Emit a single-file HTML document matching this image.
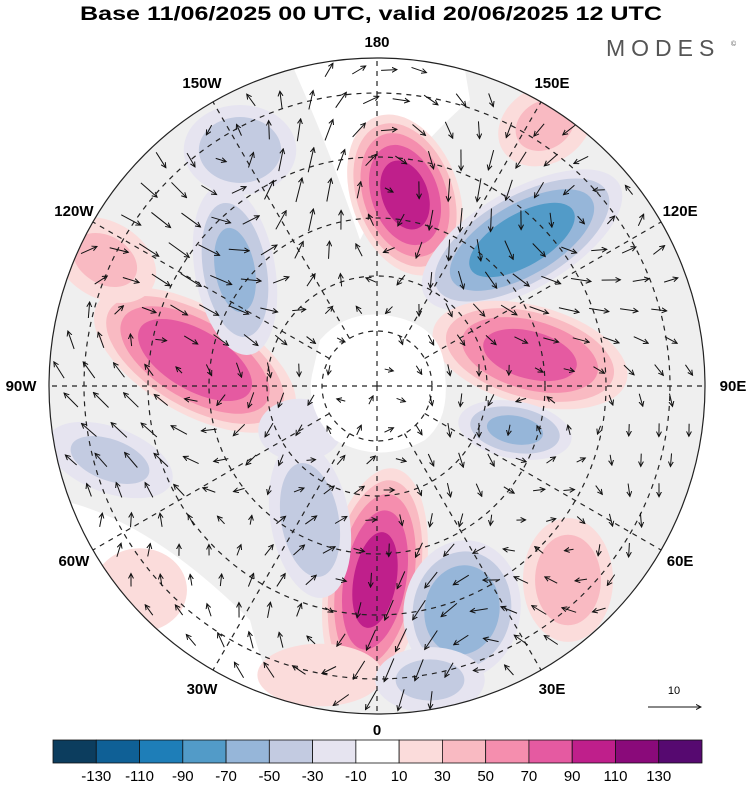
<!DOCTYPE html>
<html><head><meta charset="utf-8"><style>
body{margin:0;background:#fff;width:750px;height:783px;overflow:hidden;font-family:"Liberation Sans",sans-serif}
</style></head><body>
<svg id="chart" width="750" height="783" viewBox="0 0 750 783" xmlns="http://www.w3.org/2000/svg">
<defs><clipPath id="cc"><circle cx="377" cy="386" r="328"/></clipPath>
<marker id="ah" markerWidth="6" markerHeight="6" refX="5" refY="3" orient="auto"><path d="M0,0.5 L5,3 L0,5.5" fill="none" stroke="#111" stroke-width="1"/></marker></defs>
<text x="80" y="20" font-size="19" font-weight="bold" textLength="582" lengthAdjust="spacingAndGlyphs">Base 11/06/2025 00 UTC, valid 20/06/2025 12 UTC</text>
<text x="606" y="56" font-size="23" fill="#555" letter-spacing="6">MODES</text>
<text x="731" y="46" font-size="7" fill="#555">©</text>
<g id="map" clip-path="url(#cc)">
<circle cx="377" cy="386" r="328" fill="#efefef"/>
<path d="M60,500 Q150,520 250,620 Q270,700 300,720 L40,720 Z" fill="#fff"/>
<path d="M290,60 Q330,150 360,240 Q400,160 470,100 L460,40 Z" fill="#fff"/>
<g id="blobs"></g>
<path d="M320,340 Q350,305 400,318 Q445,330 445,375 Q450,420 425,440 Q380,465 335,440 Q305,410 312,375 Z" fill="#fff"/>
<g id="grat" fill="none" stroke="#222" stroke-dasharray="5,5" stroke-width="1.2"></g>
<g id="arrows"></g>
</g>
<circle cx="377" cy="386" r="328" fill="none" stroke="#222" stroke-width="1.2"/>
<g id="lonlabels" font-size="15" font-weight="bold" text-anchor="middle"></g>
<g>
<text x="674" y="694" font-size="11" text-anchor="middle">10</text>
<line x1="648" y1="707" x2="701" y2="707" stroke="#111" stroke-width="1" marker-end="url(#ah)"/>
</g>
<g id="colorbar"></g>
</svg>
<script>
const levels=[-130,-110,-90,-70,-50,-30,-10,10,30,50,70,90,110,130];
const colors=["#0c3d5e","#0f6096","#1e7eb8","#529bc8","#96b6d9","#c3cbe1","#e6e4f0","#ffffff","#fbdcdb","#f9bac2","#f58eae","#e55aa1","#bf1f8b","#8a0a7a","#560970"];
// anomaly centers: x,y pixel location on map, peak value, radii, rotation
const blobX=[405,522,530,515,375,462,568,195,235,240,105,110,310,140,320,545,430,300];
const blobY=[195,240,355,430,580,610,580,360,270,150,260,460,520,590,675,125,680,430];
const blobV=[100,-85,80,-55,100,-70,45,90,-55,-45,35,-35,-45,25,25,35,-35,-25];
const blobRX=[45,95,85,50,42,50,40,95,35,50,50,60,35,45,60,45,50,40];
const blobRY=[70,42,42,25,95,60,55,45,75,40,35,30,70,40,30,35,30,30];
const blobRot=[-20,-30,15,10,10,10,0,30,-10,0,30,20,-10,0,0,-30,0,0];
const cx=377,cy=386,ns="http://www.w3.org/2000/svg";
function col(v){let i=0;while(i<levels.length&&v>levels[i])i++;return colors[i];}
const bg=document.getElementById('blobs');
blobV.forEach((v,i)=>{
 const s=Math.sign(v),a=Math.abs(v);
 for(let t=10;t<a;t+=20){
  const f=Math.sqrt(1-(t)/(a+8));
  const e=document.createElementNS(ns,'ellipse');
  
  
  e.setAttribute('cx',blobX[i]);e.setAttribute('cy',blobY[i]);
  e.setAttribute('rx',blobRX[i]*f*1.25);e.setAttribute('ry',blobRY[i]*f*1.25);
  e.setAttribute('transform',`rotate(${blobRot[i]} ${blobX[i]} ${blobY[i]})`);
  e.setAttribute('fill',col(s*(t+1)));
  bg.appendChild(e);
 }
});
const g=document.getElementById('grat');
[55,110,168,229,293].forEach(r=>{const c=document.createElementNS(ns,'circle');


c.setAttribute('cx',cx);c.setAttribute('cy',cy);c.setAttribute('r',r);g.appendChild(c);});
for(let k=0;k<12;k++){const a=k*30*Math.PI/180;const l=document.createElementNS(ns,'line');


const r0=k%3==0?0:55;
l.setAttribute('x1',cx+r0*Math.sin(a));l.setAttribute('y1',cy+r0*Math.cos(a));
l.setAttribute('x2',cx+330*Math.sin(a));l.setAttribute('y2',cy+330*Math.cos(a));g.appendChild(l);}
const ag=document.getElementById('arrows');
for(let y=70;y<710;y+=30){for(let x=55;x<705;x+=30){
 const xx=x+((y/30)%2)*12,dx0=xx-cx,dy0=y-cy;if(dx0*dx0+dy0*dy0>320*320)continue;
 let u=0,w=0;
 blobV.forEach((v,i)=>{const dx=xx-blobX[i],dy=y-blobY[i];const R=(blobRX[i]+blobRY[i]);
  const k=Math.exp(-(dx*dx+dy*dy)/(R*R*1.2))*v/40;u+=-dy/R*k;w+=dx/R*k;});
 const m=Math.hypot(u,w);if(m<0.05)continue;const L=Math.min(28,8+m*12);
 const ln=document.createElementNS(ns,'line');
 
 
 ln.setAttribute('x1',xx-u/m*L/2);ln.setAttribute('y1',y-w/m*L/2);
 ln.setAttribute('x2',xx+u/m*L/2);ln.setAttribute('y2',y+w/m*L/2);
 ln.setAttribute('stroke','#111');ln.setAttribute('stroke-width','1');ln.setAttribute('marker-end','url(#ah)');
 ag.appendChild(ln);}}
const lonLabels=["0","30E","60E","90E","120E","150E","180","150W","120W","90W","60W","30W"];
const lg=document.getElementById('lonlabels');
lonLabels.forEach((t,k)=>{const a=k*30*Math.PI/180;
 const e=document.createElementNS(ns,'text');
 
 
 let rr=k%3==0?(k==3||k==9?356:344):350;
 e.setAttribute('x',cx+rr*Math.sin(a));e.setAttribute('y',cy+rr*Math.cos(a)+5);e.textContent=t;lg.appendChild(e);});
const cb=document.getElementById('colorbar');const bx=53,bw=649/15;
colors.forEach((c,i)=>{const r=document.createElementNS(ns,'rect');
 
 
 r.setAttribute('x',bx+i*bw);r.setAttribute('y',740);r.setAttribute('width',bw);r.setAttribute('height',23);
 r.setAttribute('fill',c);r.setAttribute('stroke','#111');r.setAttribute('stroke-width','0.8');cb.appendChild(r);});
levels.forEach((v,i)=>{const t=document.createElementNS(ns,'text');
 
 
 t.setAttribute('x',bx+(i+1)*bw);t.setAttribute('y',781);t.setAttribute('text-anchor','middle');t.setAttribute('font-size','15');
 t.textContent=v;cb.appendChild(t);});
</script>
</body></html>
